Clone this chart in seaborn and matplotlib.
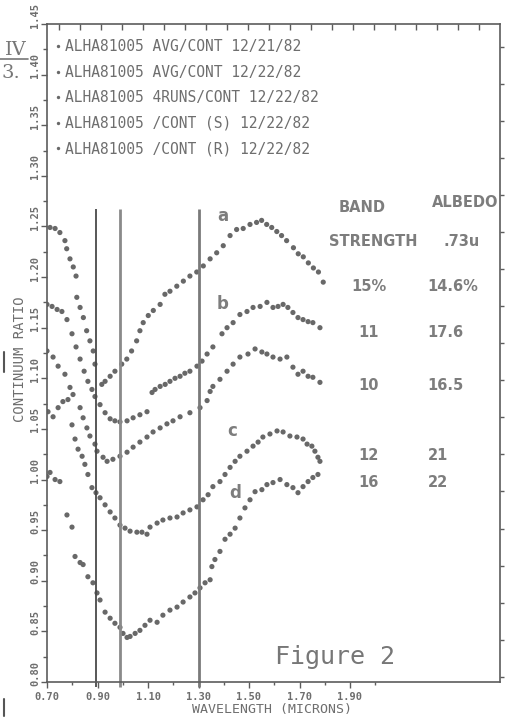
import numpy as np
import pandas as pd
import matplotlib
matplotlib.use("Agg")
import matplotlib.pyplot as plt
import seaborn as sns
from matplotlib.ticker import MultipleLocator, FixedLocator
from matplotlib.transforms import ScaledTranslation
from matplotlib.lines import Line2D

# ---------------- data ----------------
series_names = [
    "ALHA81005 AVG/CONT 12/21/82",
    "ALHA81005 AVG/CONT 12/22/82",
    "ALHA81005 4RUNS/CONT 12/22/82",
    "ALHA81005 /CONT (S) 12/22/82",
    "ALHA81005 /CONT (R) 12/22/82",
]

a_x = [0.712, 0.732, 0.751, 0.771, 0.778, 0.791, 0.804, 0.815, 0.818, 0.831,
       0.844, 0.857, 0.870, 0.883, 0.890, 0.917, 0.930, 0.950, 0.969, 0.996,
       1.016, 1.035, 1.055, 1.068, 1.081, 1.101, 1.121, 1.148, 1.167, 1.187,
       1.214, 1.240, 1.266, 1.293, 1.319, 1.346, 1.372, 1.398, 1.425, 1.451,
       1.477, 1.504, 1.530, 1.550, 1.570, 1.590, 1.610, 1.629, 1.649, 1.676,
       1.695, 1.715, 1.735, 1.755, 1.775, 1.794]
a_y = [1.249, 1.248, 1.244, 1.236, 1.228, 1.218, 1.210, 1.201, 1.180, 1.170,
       1.160, 1.147, 1.137, 1.127, 1.114, 1.094, 1.097, 1.102, 1.107, 1.114,
       1.119, 1.127, 1.137, 1.147, 1.155, 1.162, 1.167, 1.173, 1.183, 1.186,
       1.191, 1.196, 1.201, 1.205, 1.211, 1.218, 1.224, 1.231, 1.241, 1.247,
       1.248, 1.252, 1.254, 1.256, 1.252, 1.249, 1.245, 1.241, 1.236, 1.229,
       1.223, 1.220, 1.214, 1.209, 1.205, 1.195]

b_x = [0.700, 0.720, 0.740, 0.759, 0.779, 0.799, 0.815, 0.831, 0.847, 0.862,
       0.878, 0.890, 0.910, 0.930, 0.950, 0.969, 0.989, 1.017, 1.041, 1.068,
       1.096, 1.116, 1.128, 1.148, 1.168, 1.187, 1.207, 1.227, 1.246, 1.266,
       1.294, 1.314, 1.334, 1.357, 1.393, 1.413, 1.437, 1.464, 1.492, 1.516,
       1.544, 1.571, 1.595, 1.615, 1.635, 1.654, 1.674, 1.694, 1.714, 1.734,
       1.753, 1.781]
b_y = [1.173, 1.171, 1.168, 1.166, 1.158, 1.144, 1.131, 1.119, 1.107, 1.097,
       1.089, 1.082, 1.074, 1.066, 1.060, 1.058, 1.057, 1.058, 1.061, 1.064,
       1.067, 1.086, 1.089, 1.092, 1.094, 1.097, 1.100, 1.102, 1.105, 1.107,
       1.112, 1.117, 1.124, 1.131, 1.144, 1.150, 1.155, 1.163, 1.166, 1.170,
       1.171, 1.175, 1.170, 1.171, 1.173, 1.170, 1.165, 1.160, 1.158, 1.156,
       1.155, 1.150]

r4_x = [0.700, 0.724, 0.744, 0.771, 0.791, 0.803, 0.831, 0.843, 0.858, 0.870,
        0.890, 0.898, 0.922, 0.938, 0.961, 0.989, 1.017, 1.041, 1.068, 1.096,
        1.120, 1.148, 1.175, 1.199, 1.227, 1.266, 1.306, 1.334, 1.346, 1.357,
        1.385, 1.413, 1.437, 1.464, 1.496, 1.524, 1.551, 1.571, 1.595, 1.623,
        1.650, 1.674, 1.694, 1.714, 1.734, 1.753, 1.781]
r4_y = [1.127, 1.121, 1.112, 1.104, 1.091, 1.084, 1.071, 1.061, 1.051, 1.043,
        1.035, 1.028, 1.022, 1.018, 1.020, 1.023, 1.027, 1.032, 1.037, 1.042,
        1.047, 1.051, 1.055, 1.058, 1.062, 1.066, 1.071, 1.078, 1.087, 1.092,
        1.099, 1.107, 1.114, 1.121, 1.124, 1.129, 1.126, 1.124, 1.121, 1.119,
        1.121, 1.111, 1.104, 1.107, 1.102, 1.101, 1.096]

c_x = [0.704, 0.724, 0.744, 0.763, 0.783, 0.799, 0.811, 0.823, 0.839, 0.850,
       0.862, 0.878, 0.894, 0.910, 0.930, 0.950, 0.969, 0.989, 1.009, 1.029,
       1.056, 1.076, 1.096, 1.108, 1.136, 1.159, 1.187, 1.215, 1.239, 1.266,
       1.294, 1.318, 1.338, 1.357, 1.385, 1.405, 1.425, 1.445, 1.464, 1.492,
       1.516, 1.536, 1.555, 1.583, 1.611, 1.635, 1.662, 1.690, 1.714, 1.730,
       1.749, 1.761, 1.773, 1.781]
c_y = [1.067, 1.062, 1.071, 1.077, 1.079, 1.054, 1.040, 1.030, 1.023, 1.015,
       1.005, 0.992, 0.987, 0.982, 0.975, 0.968, 0.962, 0.955, 0.952, 0.949,
       0.948, 0.948, 0.946, 0.953, 0.957, 0.960, 0.962, 0.963, 0.967, 0.970,
       0.973, 0.980, 0.985, 0.993, 0.998, 1.005, 1.012, 1.018, 1.023, 1.028,
       1.033, 1.037, 1.042, 1.045, 1.048, 1.047, 1.043, 1.042, 1.040, 1.035,
       1.033, 1.028, 1.022, 1.018]

d_x = [0.700, 0.712, 0.732, 0.751, 0.779, 0.799, 0.811, 0.831, 0.843, 0.862,
       0.882, 0.898, 0.910, 0.930, 0.950, 0.969, 0.989, 1.001, 1.017, 1.029,
       1.049, 1.068, 1.088, 1.108, 1.136, 1.159, 1.187, 1.215, 1.239, 1.266,
       1.286, 1.306, 1.326, 1.346, 1.353, 1.365, 1.385, 1.405, 1.425, 1.445,
       1.464, 1.484, 1.504, 1.524, 1.551, 1.571, 1.595, 1.623, 1.650, 1.674,
       1.694, 1.714, 1.734, 1.753, 1.773]
d_y = [1.003, 1.007, 1.000, 0.998, 0.965, 0.953, 0.924, 0.918, 0.916, 0.904,
       0.898, 0.888, 0.881, 0.869, 0.863, 0.858, 0.854, 0.848, 0.844, 0.845,
       0.848, 0.851, 0.856, 0.861, 0.859, 0.866, 0.871, 0.874, 0.879, 0.884,
       0.888, 0.893, 0.898, 0.901, 0.914, 0.921, 0.929, 0.941, 0.946, 0.952,
       0.962, 0.972, 0.980, 0.988, 0.990, 0.995, 0.997, 1.000, 0.995, 0.992,
       0.987, 0.993, 0.998, 1.002, 1.005]

band_lines = [0.895, 0.99, 1.30]          # vertical reference lines (microns)
curve_letters = ["a", "b", "c", "d"]
band_strength = ["15%", "11", "10", "12", "16"]
albedo = ["14.6%", "17.6", "16.5", "21", "22"]
x_tick_labels = ["0.70", "0.90", "1.10", "1.30", "1.50", "1.70", "1.90"]
y_tick_values = [0.80, 0.85, 0.90, 0.95, 1.00, 1.05, 1.10, 1.15, 1.20,
                 1.25, 1.30, 1.35, 1.40, 1.45]

# ---------------- build table ----------------
xs = [a_x, b_x, r4_x, c_x, d_x]
ys = [a_y, b_y, r4_y, c_y, d_y]
df = pd.concat(
    [pd.DataFrame({"wavelength": x, "ratio": y, "series": n})
     for x, y, n in zip(xs, ys, series_names)],
    ignore_index=True)

# ---------------- style ----------------
sns.set_style("ticks")
plt.rcParams["font.family"] = ["DejaVu Sans"]
INK = "#5c5c5c"
TXT = "#6e6e6e"
DOT = "#686868"

fig = plt.figure(figsize=(5.06, 7.19), dpi=100)
fig.patch.set_facecolor("white")
ax = fig.add_axes([47 / 506, 1 - 682 / 719, 453 / 506, 658 / 719])

sns.scatterplot(data=df, x="wavelength", y="ratio", hue="series",
                palette={n: DOT for n in series_names}, s=14,
                edgecolor="none", linewidth=0, ax=ax, legend=True)

ax.set_xlim(0.70, 0.70 + 453 / 252.5)
ax.set_ylim(0.80, 1.45)

# vertical band lines
line_cols = ["#4a4a4a", "#8a8a8a", "#7a7a7a"]
line_w = [1.3, 2.0, 2.0]
for xv, col, lw in zip(band_lines, line_cols, line_w):
    ax.plot([xv, xv], [0.795, 1.267], color=col, lw=lw, clip_on=False,
            solid_capstyle="butt", zorder=1)

# axes styling
for s in ax.spines.values():
    s.set_color(INK)
    s.set_linewidth(1.2)

ax.xaxis.set_major_locator(FixedLocator([0.70, 0.90, 1.10, 1.30, 1.50, 1.70, 1.90]))
ax.set_xticklabels(x_tick_labels)
ax.xaxis.set_minor_locator(FixedLocator([0.80, 1.00, 1.20, 1.40, 1.60, 1.80, 2.00]))
ax.yaxis.set_major_locator(FixedLocator(y_tick_values))
ax.set_yticklabels([f"{v:.2f}" for v in y_tick_values])
ax.yaxis.set_minor_locator(MultipleLocator(0.025))

ax.tick_params(axis="both", which="both", direction="out", color=INK,
               labelcolor=TXT, width=1.0)
ax.tick_params(axis="x", which="major", length=4, pad=3)
ax.tick_params(axis="x", which="minor", length=2.5)
ax.tick_params(axis="y", which="major", length=4, pad=1)
ax.tick_params(axis="y", which="minor", length=3)
for lab in ax.get_xticklabels():
    lab.set_fontfamily("DejaVu Sans Mono")
    lab.set_fontsize(7.5)
    lab.set_fontweight("bold")
for lab in ax.get_yticklabels():
    lab.set_fontfamily("DejaVu Sans Mono")
    lab.set_fontsize(7.5)
    lab.set_fontweight("bold")
    lab.set_rotation(90)
    lab.set_va("center")
    lab.set_transform(lab.get_transform() +
                      ScaledTranslation(0, 9 / 100, fig.dpi_scale_trans))

# ticks on top / right
top = ax.secondary_xaxis("top")
top.xaxis.set_major_locator(MultipleLocator(0.0832))
top.tick_params(direction="in", length=4, color=INK, labeltop=False, width=1.0)
top.spines["top"].set_visible(False)
right = ax.secondary_yaxis("right")
right.yaxis.set_major_locator(MultipleLocator(0.0366))
right.tick_params(direction="out", length=3, color=INK, labelright=False, width=1.0)
right.spines["right"].set_visible(False)

ax.set_xlabel("WAVELENGTH (MICRONS)", fontfamily="DejaVu Sans Mono",
              fontsize=9.5, color=TXT, labelpad=1)
ax.xaxis.set_label_coords((272 - 47) / 453, -(703 - 682) / 658)
ax.set_ylabel("CONTINUUM RATIO", fontfamily="DejaVu Sans Mono",
              fontsize=10, color=TXT)
ax.yaxis.set_label_coords(-(47 - 27) / 453, 1 - (359 - 24) / 658)

# legend (series names)
handles, labels = ax.get_legend_handles_labels()
leg = ax.legend(handles, labels, loc="upper left",
                bbox_to_anchor=(0.018, 0.977), frameon=False,
                handlelength=0.4, handletextpad=0.25, borderpad=0,
                borderaxespad=0, labelspacing=0.72, markerscale=0.65,
                prop={"family": "DejaVu Sans Mono", "size": 10.5})
for t in leg.get_texts():
    t.set_color(TXT)

# table annotations
bold = dict(fontfamily="DejaVu Sans", fontweight="bold", color="#7d7d7d")
ax.text(1.948, 1.269, "BAND", ha="center", va="center", fontsize=10.5, **bold)
ax.text(1.991, 1.235, "STRENGTH", ha="center", va="center", fontsize=10.5, **bold)
ax.text(2.356, 1.274, "ALBEDO", ha="center", va="center", fontsize=10.5, **bold)
ax.text(2.344, 1.235, ".73u", ha="center", va="center", fontsize=10.5, **bold)
row_y = [1.191, 1.145, 1.093, 1.024, 0.997]
for bs, al, yy in zip(band_strength, albedo, row_y):
    ax.text(1.975, yy, bs, ha="center", va="center", fontsize=10.5, **bold)
    ax.text(2.208, yy, al, ha="left", va="center", fontsize=10.5, **bold)

letter_pos = [(1.397, 1.260), (1.397, 1.173), (1.433, 1.048), (1.445, 0.987)]
for ltr, (lx, ly) in zip(curve_letters, letter_pos):
    ax.text(lx, ly, ltr, ha="center", va="center", fontsize=12, **bold)

ax.text(1.841, 0.825, "Figure 2", ha="center", va="center",
        fontfamily="DejaVu Sans Mono", fontsize=18, color="#777777")

# fragments of the neighbouring page at the left edge
fig.text(27 / 506, 1 - 55 / 719, "IV", ha="right", va="baseline",
         fontfamily="DejaVu Serif", fontsize=14, color="#777777")
fig.text(20 / 506, 1 - 78 / 719, "3.", ha="right", va="baseline",
         fontfamily="DejaVu Serif", fontsize=14, color="#777777")
fig.add_artist(Line2D([0, 28 / 506], [1 - 59 / 719, 1 - 59 / 719],
                      color="#777777", lw=1.2))
fig.add_artist(Line2D([4 / 506, 4 / 506], [1 - 352 / 719, 1 - 372 / 719],
                      color="#555555", lw=1.5))
fig.add_artist(Line2D([4 / 506, 4 / 506], [1 - 699 / 719, 1 - 716 / 719],
                      color="#555555", lw=1.5))

fig.savefig("out.png", dpi=100, facecolor="white")
